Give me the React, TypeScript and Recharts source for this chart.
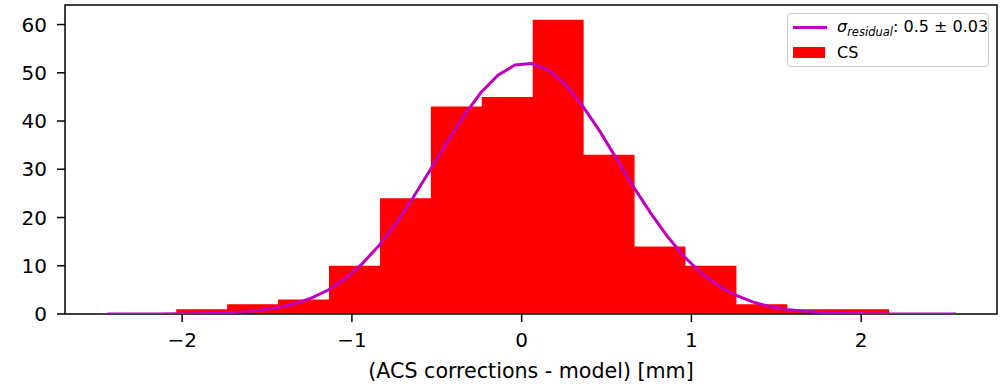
import { ComposedChart, Area, Line, XAxis, YAxis, ReferenceArea } from 'recharts';

// histogram: bin edges and counts
const BIN_EDGES = [-2.035, -1.735, -1.435, -1.135, -0.835, -0.535, -0.235, 0.065, 0.365, 0.665, 0.965, 1.265, 1.565, 1.865, 2.165];
const COUNTS = [1, 2, 3, 10, 24, 43, 45, 61, 33, 14, 10, 2, 1, 1];

// fitted curve
const FIT_X = [
  -2.44, -2.34, -2.24, -2.14, -2.04, -1.94, -1.84, -1.74, -1.64, -1.54,
  -1.44, -1.34, -1.24, -1.14, -1.04, -0.94, -0.84, -0.74, -0.64, -0.54,
  -0.44, -0.34, -0.24, -0.14, -0.04, 0.06, 0.16, 0.26, 0.36, 0.46,
  0.56, 0.66, 0.76, 0.86, 0.96, 1.06, 1.16, 1.26, 1.36, 1.46,
  1.56, 1.66, 1.76, 1.86, 1.96, 2.06, 2.16, 2.26, 2.36, 2.46, 2.56,
];
const FIT_Y = [
  0, 0, 0.01, 0.02, 0.03, 0.07, 0.13, 0.24, 0.44, 0.76,
  1.28, 2.08, 3.27, 4.97, 7.3, 10.4, 14.2, 18.8, 24.1, 29.8,
  35.6, 41.1, 45.9, 49.5, 51.6, 51.9, 50.5, 47.5, 43.1, 37.9,
  32.1, 26.3, 20.9, 16.0, 11.8, 8.4, 5.8, 3.9, 2.5, 1.56,
  0.94, 0.55, 0.31, 0.17, 0.09, 0.04, 0.02, 0.01, 0, 0, 0,
];

const X_TICKS = [-2, -1, 0, 1, 2];
const Y_TICKS = [0, 10, 20, 30, 40, 50, 60];
const X_DOMAIN: [number, number] = [-2.69, 2.8];
const Y_DOMAIN: [number, number] = [0, 64.05];

const FONT = '"DejaVu Sans", sans-serif';
const MAGENTA = '#bf00bf';
const RED = '#ff0000';

const fmtTick = (v: number) => (v < 0 ? `\u2212${Math.abs(v)}` : `${v}`);

export default function App() {
  // stepAfter area needs the last edge to repeat the last count
  const histData = BIN_EDGES.map((x, i) => ({ x, n: COUNTS[Math.min(i, COUNTS.length - 1)] }));
  const fitData = FIT_X.map((x, i) => ({ x, y: FIT_Y[i] }));

  return (
    <div style={{ position: 'relative', width: 1002, height: 384, background: '#fff', fontFamily: FONT }}>
      <style>{'body { margin: 0; }'}</style>
      <ComposedChart width={1002} height={384} margin={{ top: 5, right: 5, left: 0, bottom: 0 }}>
        <XAxis
          type="number"
          dataKey="x"
          domain={X_DOMAIN}
          ticks={X_TICKS}
          tickFormatter={fmtTick}
          allowDataOverflow
          height={70}
          tickSize={8}
          tickMargin={11}
          axisLine={false}
          tickLine={{ stroke: '#000', strokeWidth: 1.5 }}
          tick={{ fontSize: 20, fill: '#000', fontFamily: FONT }}
          label={{ value: '(ACS corrections - model) [mm]', position: 'insideBottom', offset: 6, fontSize: 20.6, fill: '#000', fontFamily: FONT }}
        />
        <YAxis
          type="number"
          domain={Y_DOMAIN}
          ticks={Y_TICKS}
          allowDataOverflow
          width={65}
          tickSize={8}
          tickMargin={10}
          axisLine={false}
          tickLine={{ stroke: '#000', strokeWidth: 1.5 }}
          tick={{ fontSize: 20, fill: '#000', fontFamily: FONT }}
        />
        <Area
          data={histData}
          dataKey="n"
          type="stepAfter"
          fill={RED}
          fillOpacity={1}
          stroke="none"
          isAnimationActive={false}
        />
        <Line
          data={fitData}
          dataKey="y"
          type="linear"
          stroke={MAGENTA}
          strokeWidth={3}
          dot={false}
          isAnimationActive={false}
        />
        <ReferenceArea
          x1={X_DOMAIN[0]}
          x2={X_DOMAIN[1]}
          y1={Y_DOMAIN[0]}
          y2={Y_DOMAIN[1]}
          fill="none"
          stroke="#000"
          strokeWidth={1.5}
        />
      </ComposedChart>

      {/* legend box, top right */}
      <div
        style={{
          position: 'absolute',
          left: 787,
          top: 13,
          width: 202,
          height: 54,
          boxSizing: 'border-box',
          border: '1px solid #cccccc',
          borderRadius: 4,
          background: 'rgba(255,255,255,0.8)',
          fontSize: 16,
          color: '#000',
        }}
      >
        <div style={{ position: 'absolute', left: 5, top: 12, width: 34, height: 3, background: MAGENTA }} />
        <div style={{ position: 'absolute', left: 49, top: 1, whiteSpace: 'nowrap', lineHeight: '24px' }}>
          <i>σ</i>
          <sub style={{ fontSize: 11.5, fontStyle: 'italic' }}>residual</sub>
          <span>: 0.5 ± 0.03</span>
        </div>
        <div style={{ position: 'absolute', left: 5, top: 33, width: 32, height: 11, background: RED }} />
        <div style={{ position: 'absolute', left: 49, top: 27, lineHeight: '24px' }}>CS</div>
      </div>
    </div>
  );
}
